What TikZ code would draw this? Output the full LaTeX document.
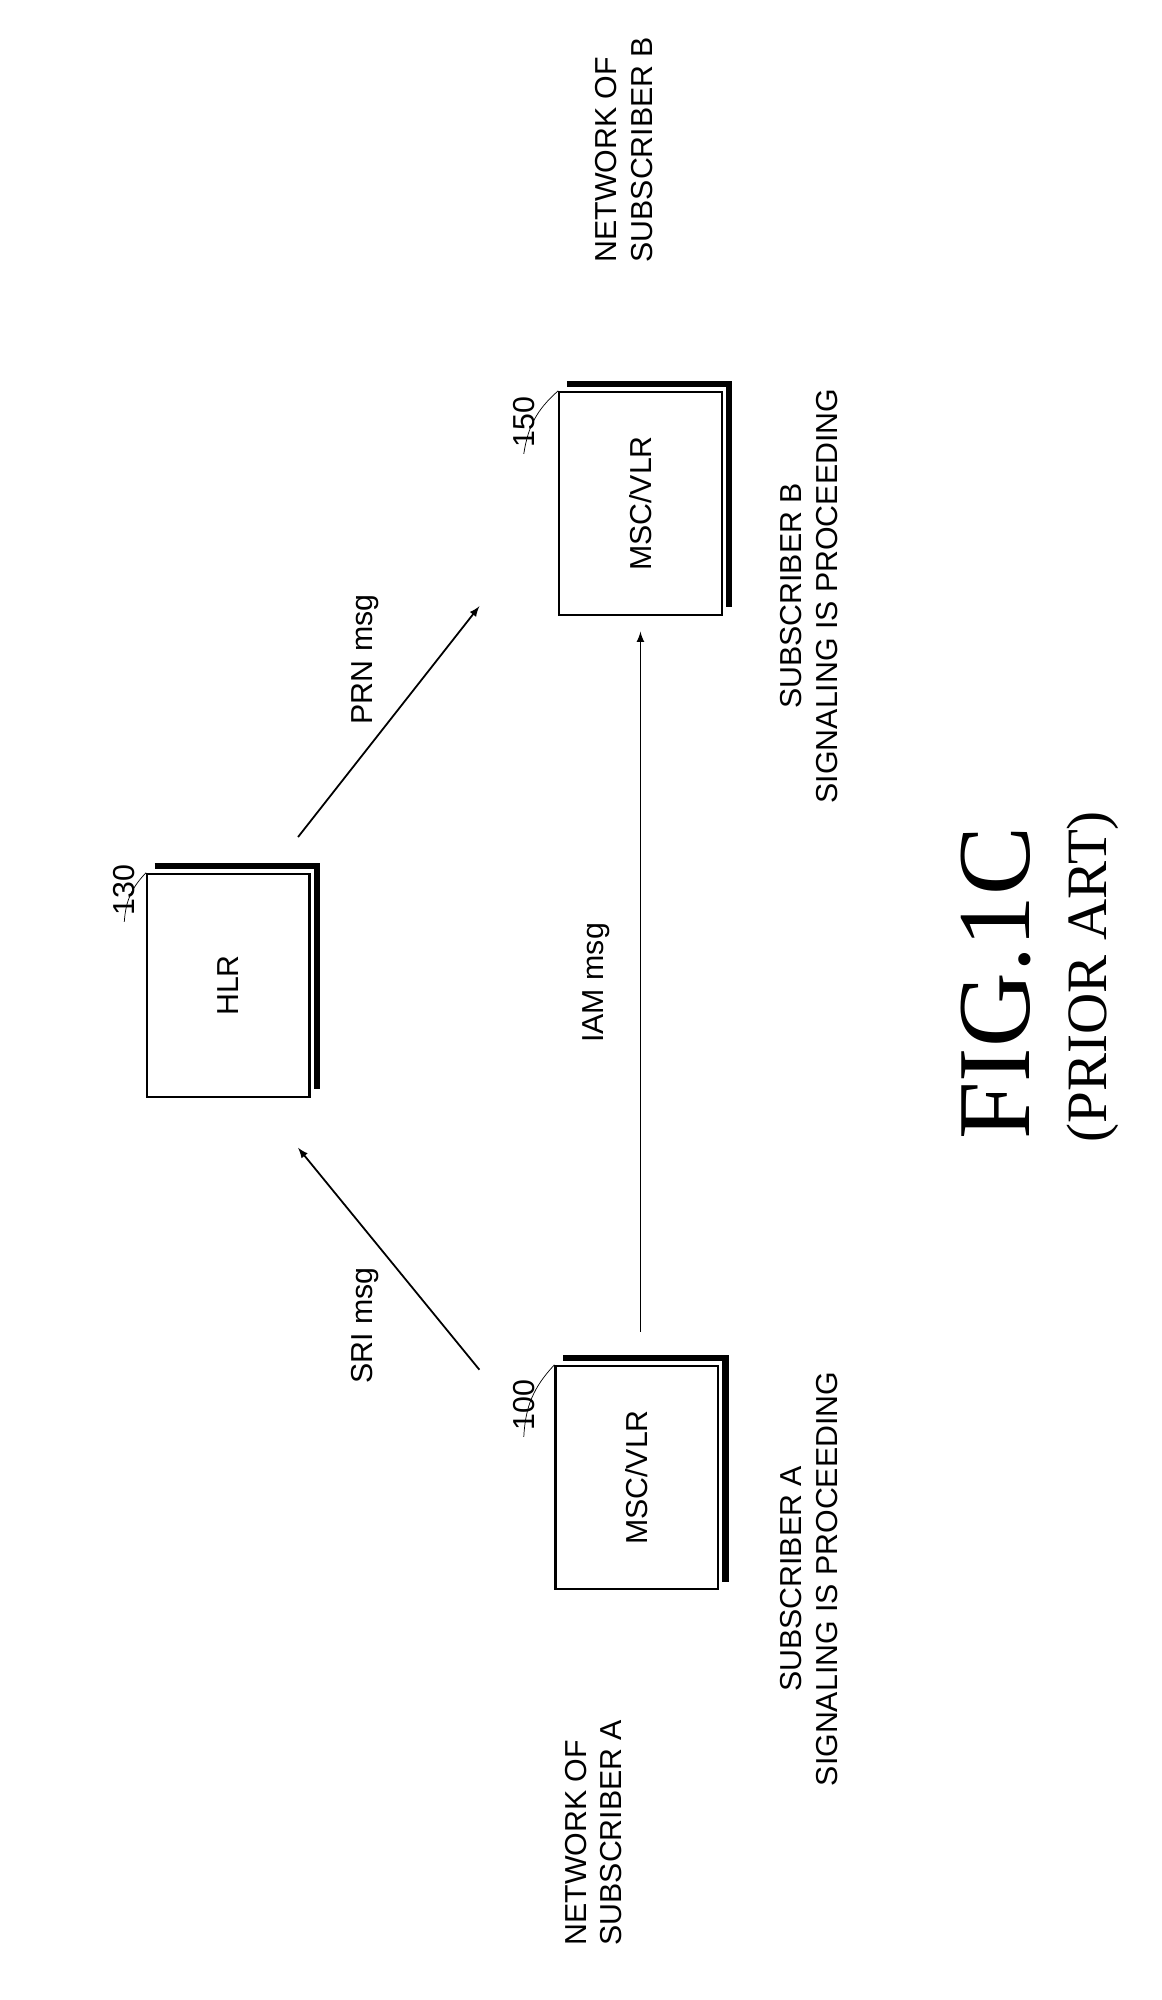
\documentclass[tikz,border=0pt]{standalone}
\usepackage{fontspec}
\setmainfont{Liberation Serif}
\setsansfont{Liberation Sans}
\usetikzlibrary{positioning}
\begin{document}
\begin{tikzpicture}[x=0.025cm,y=-0.025cm,
  lbl/.style={rotate=90,font=\sffamily\fontsize{17}{20}\selectfont,align=center},
  box/.style={draw,line width=1.2pt,fill=white,minimum width=4.4cm,minimum height=3.2cm,rotate=90,font=\sffamily\fontsize{17}{20}\selectfont},
  msg/.style={-latex,line width=1pt}]
\useasboundingbox (0,0) rectangle (916,1577);
\def\shadowbox#1#2#3#4{
  \node[box] (#1) at (#2,#3) {#4};
  \draw[line width=3.5pt] (#2-58,#3-94) -- (#2+70,#3-94) -- (#2+70,#3+82);
}
% boxes
\shadowbox{msca}{502}{1165}{MSC/VLR}
\shadowbox{hlr}{180}{777}{HLR}
\shadowbox{mscb}{505}{397}{MSC/VLR}
% reference numbers
\node[lbl] (n100) at (413,1108) {100};
\draw (n100.west) to[bend left=20] (msca.north east);
\node[lbl] (n130) at (98,702) {130};
\draw (n130.west) to[bend left=20] (hlr.north east);
\node[lbl] (n150) at (413,333) {150};
\draw (n150.west) to[bend left=20] (mscb.north east);
% messages
\coordinate (s1) at (378,1080); \coordinate (s2) at (235,905);
\draw[msg] (s1) -- (s2);
\node[lbl] (sri) at (288,1045) {SRI msg};
\coordinate (p1) at (235,660); \coordinate (p2) at (378,478);
\draw[msg] (p1) -- (p2);
\node[lbl] (prn) at (288,520) {PRN msg};
\coordinate (i1) at (505,1050); \coordinate (i2) at (505,498);
\draw[msg] (i1) -- (i2);
\node[lbl] (iam) at (470,775) {IAM msg};
% captions
\node[lbl,align=left] (neta) at (468,1445) {NETWORK OF\\SUBSCRIBER A};
\node[lbl] (siga) at (638,1245) {SUBSCRIBER A\\SIGNALING IS PROCEEDING};
\node[lbl,align=left] (netb) at (492,118) {NETWORK OF\\SUBSCRIBER B};
\node[lbl] (sigb) at (638,470) {SUBSCRIBER B\\SIGNALING IS PROCEEDING};
\node[rotate=90,font=\fontsize{58}{60}\selectfont] (fig) at (785,775) {FIG.1C};
\node[rotate=90,font=\fontsize{32}{34}\selectfont] (prior) at (862,770) {(PRIOR ART)};
\end{tikzpicture}
\end{document}
